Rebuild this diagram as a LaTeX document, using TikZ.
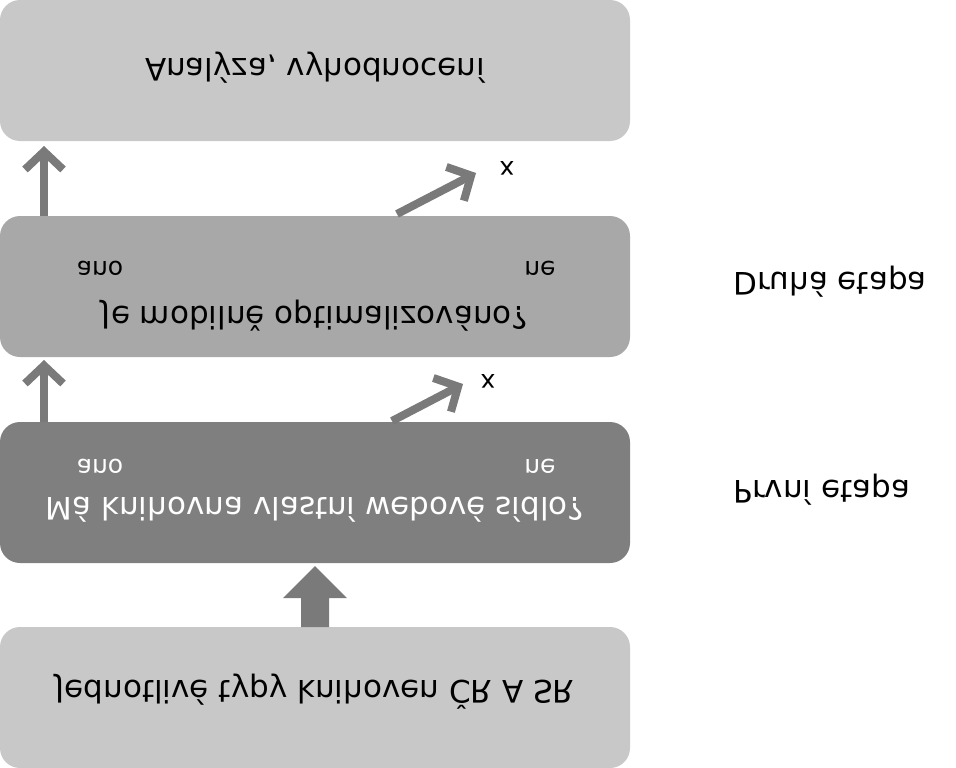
\documentclass[tikz,border=0pt]{standalone}
\usepackage{fontspec}
\setmainfont{DejaVu Sans}
\usetikzlibrary{arrows.meta,shapes.arrows}
\definecolor{lg}{HTML}{C8C8C8}
\definecolor{mg}{HTML}{A8A8A8}
\definecolor{dg}{HTML}{7F7F7F}
\definecolor{ag}{HTML}{7A7A7A}
\tikzset{
 box/.style={rounded corners=20pt,draw=none},
 txt/.style={transform shape,font=\fontsize{31}{32}\selectfont,inner sep=0pt},
 small/.style={transform shape,font=\fontsize{25}{26}\selectfont,inner sep=0pt},
 arr/.style={draw=ag,line width=8pt,-{Straight Barb[length=18pt,width=38pt,line width=8pt]}},
}
\begin{document}
\begin{tikzpicture}[x=1pt,y=1pt,yscale=-1]
\useasboundingbox (0,0) rectangle (956,768);
\fill[box,lg] (0,0) rectangle (630,141);
\fill[box,mg] (0,216) rectangle (630,357);
\fill[box,dg] (0,422) rectangle (630,563);
\fill[box,lg] (0,627) rectangle (630,768);
\node[txt] (t1) at (315,68) {Analýza, vyhodnocení};
\node[txt] (t2) at (315,316) {Je mobilně optimalizováno?};
\node[small] (a2) at (100,268) {ano};
\node[small] (n2) at (540,268) {ne};
\node[txt,white] (t3) at (315,510) {Má knihovna vlastní webové sídlo?};
\node[small,white] (a3) at (100,466) {ano};
\node[small,white] (n3) at (540,466) {ne};
\node[txt] (t4) at (315,692) {Jednotlivé typy knihoven ČR A SR};
\node[txt] (e2) at (830,282) {Druhá etapa};
\node[txt] (e1) at (822,490) {První etapa};
\node[small] (x2) at (507,168) {x};
\node[small] (x1) at (488,381) {x};
\coordinate (s1) at (44,216); \coordinate (d1) at (44,146);
\coordinate (s2) at (44,422); \coordinate (d2) at (44,360);
\coordinate (s3) at (397,214); \coordinate (d3) at (476,173);
\coordinate (s4) at (392,421); \coordinate (d4) at (463,384);
\draw[arr] (s1) -- (d1);
\draw[arr] (s2) -- (d2);
\draw[arr] (s3) -- (d3);
\draw[arr] (s4) -- (d4);
\fill[ag] (301,627) -- (301,598) -- (283,598) -- (315,566) -- (347,598) -- (329,598) -- (329,627) -- cycle;
\end{tikzpicture}
\end{document}
